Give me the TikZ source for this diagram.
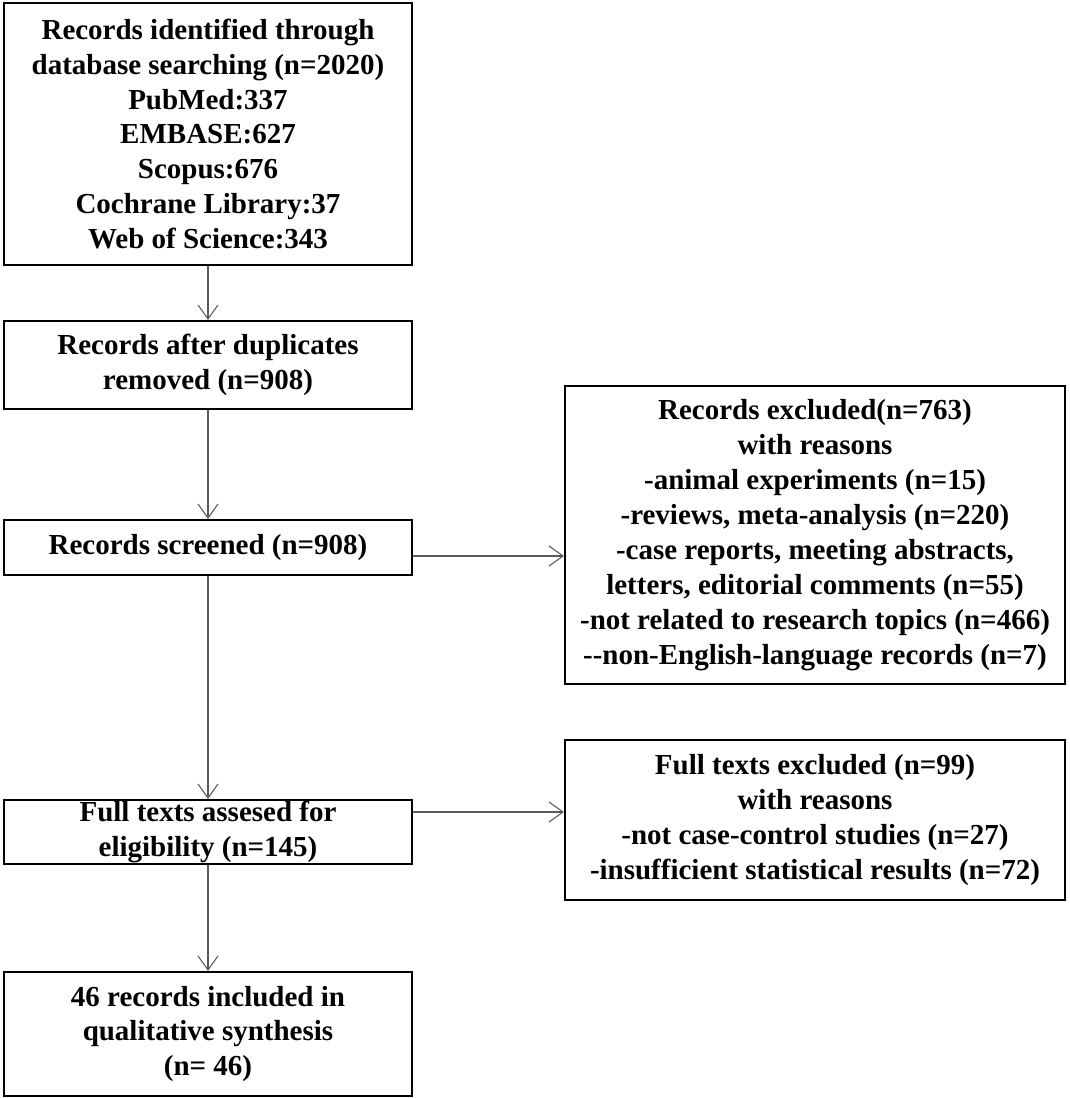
\documentclass[tikz,border=0pt]{standalone}
\usepackage{fontspec}
\setmainfont{Liberation Serif}
\usetikzlibrary{arrows.meta}
\begin{document}
\begin{tikzpicture}[x=0.02cm,y=-0.02cm,
  box/.style={draw,line width=1.3pt,align=center,inner sep=0pt,
    font=\bfseries\fontsize{16.5}{19.9}\selectfont},
  arr/.style={draw=gray!70!black,line width=0.6pt,
    -{Straight Barb[length=0.28cm,width=0.4cm]}}]
\useasboundingbox (0,0) rectangle (1069,1099);
%\draw [help lines,step=1cm] (0,0) grid (1069,1099);
% left column
\node [box,minimum width=8.16cm,minimum height=5.24cm] (ident) at (208,134)
  {Records identified through\\database searching (n=2020)\\PubMed:337\\EMBASE:627\\Scopus:676\\Cochrane Library:37\\Web of Science:343};
\node [box,minimum width=8.16cm,minimum height=1.76cm] (dupl) at (208,365)
  {Records after duplicates\\removed (n=908)};
\node [box,minimum width=8.16cm,minimum height=1.1cm] (screen) at (208,547.5)
  {Records screened (n=908)};
\node [box,minimum width=8.16cm,minimum height=1.28cm] (full) at (208,832)
  {Full texts assesed for\\eligibility (n=145)};
\node [box,minimum width=8.16cm,minimum height=2.48cm] (incl) at (208,1034)
  {46 records included in\\qualitative synthesis\\(n= 46)};
% right column
\node [box,minimum width=10cm,minimum height=5.96cm] (excl) at (815,535)
  {Records excluded(n=763)\\with reasons\\-animal experiments (n=15)\\-reviews, meta-analysis (n=220)\\-case reports, meeting abstracts,\\letters, editorial comments (n=55)\\-not related to research topics (n=466)\\-{}-non-English-language records (n=7)};
\node [box,minimum width=10cm,minimum height=3.2cm] (fullexcl) at (815,820)
  {Full texts excluded (n=99)\\with reasons\\-not case-control studies (n=27)\\-insufficient statistical results (n=72)};
% arrows
\coordinate (r1) at (0,556);
\coordinate (r2) at (0,812);
\draw [arr] (ident) -- (dupl);
\draw [arr] (dupl) -- (screen);
\draw [arr] (screen) -- (full);
\draw [arr] (full) -- (incl);
\draw [arr] (screen.east |- r1) -- (excl.west |- r1);
\draw [arr] (full.east |- r2) -- (fullexcl.west |- r2);
\end{tikzpicture}
\end{document}
